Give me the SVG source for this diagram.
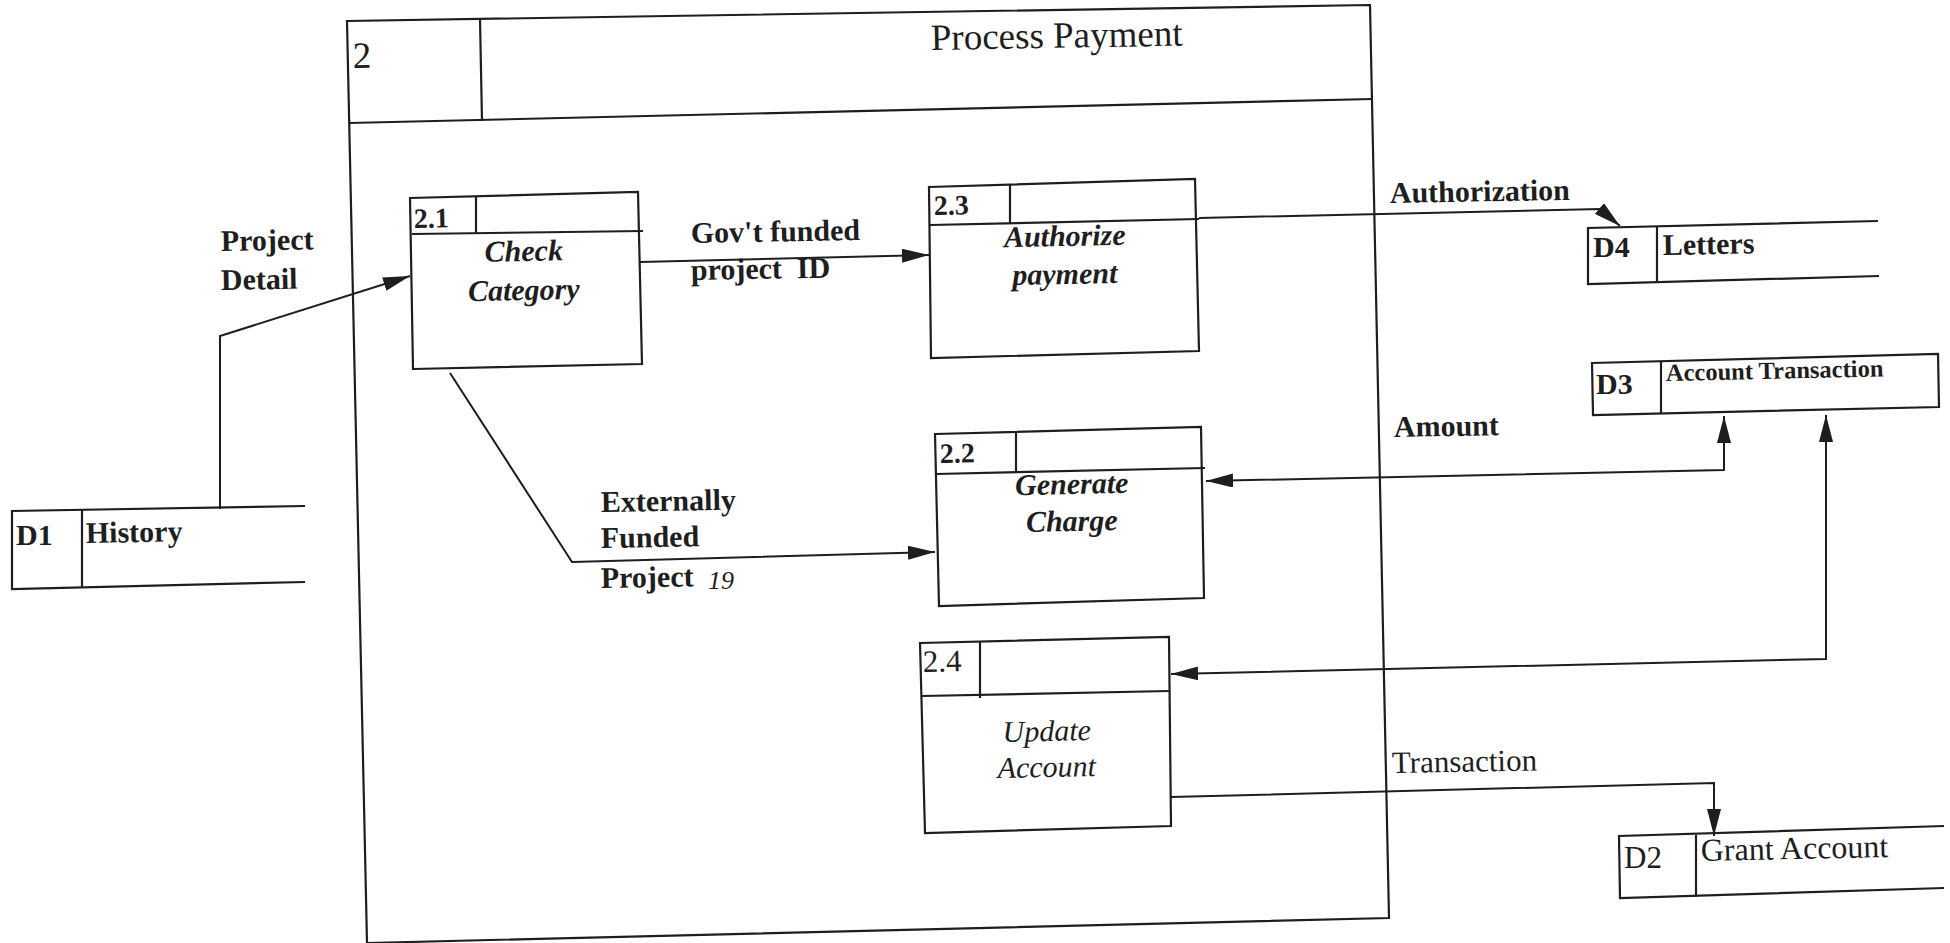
<svg xmlns="http://www.w3.org/2000/svg" width="1950" height="943" viewBox="0 0 1950 943">
<style>
  .ln{fill:none;stroke:#1e1e1e;stroke-width:2.2;stroke-linejoin:miter}
  .box{fill:#ffffff;stroke:#1e1e1e;stroke-width:2.2}
  .cn{fill:none;stroke:#1e1e1e;stroke-width:2}
  .t{font-family:"Liberation Serif","Times New Roman",serif;fill:#1e1e1e}
  .b{font-weight:bold}
  .bi{font-weight:bold;font-style:italic}
  .i{font-style:italic}
  .proc{font-size:30px;text-anchor:middle}
  .lbl{font-size:30px;font-weight:bold}
  .num{font-size:28px;font-weight:bold}
</style>
<defs>
  <marker id="arr" markerUnits="userSpaceOnUse" markerWidth="27" markerHeight="14" viewBox="0 0 27 14" refX="27" refY="7" orient="auto-start-reverse">
    <path d="M0,0 L27,7 L0,14 z" fill="#1e1e1e"/>
  </marker>
</defs>
<rect width="1950" height="943" fill="#ffffff"/>

<g id="process-2">
  <path class="ln" d="M347,21 L1370,5 L1389,918 L367,943 Z"/>
  <path class="ln" d="M349,123 L1373,99"/>
  <path class="ln" d="M480,19 L482,121"/>
  <text class="t" x="353" y="68" font-size="37" transform="rotate(-1.2 353 68)">2</text>
  <text class="t" x="931" y="50" font-size="37" transform="rotate(-1 931 50)">Process Payment</text>
</g>

<g id="connectors">
  <path class="cn" d="M220,509 L220,336 L410,276" marker-end="url(#arr)"/>
  <path class="cn" d="M640,262 L929,255" marker-end="url(#arr)"/>
  <path class="cn" d="M450,373 L572,562 L935,552" marker-end="url(#arr)"/>
  <path class="cn" d="M1199,218 L1600,209 L1620,226" marker-end="url(#arr)"/>
  <path class="cn" d="M1724,416 L1724,470 L1206,481" marker-start="url(#arr)" marker-end="url(#arr)"/>
  <path class="cn" d="M1826,415 L1826,659 L1171,674" marker-start="url(#arr)" marker-end="url(#arr)"/>
  <path class="cn" d="M1171,797 L1714,783 L1714,836" marker-end="url(#arr)"/>
  <text class="t lbl" x="221" y="251" transform="rotate(-1 221 251)">Project</text>
  <text class="t lbl" x="221" y="290" transform="rotate(-1 221 290)">Detail</text>
  <text class="t lbl" x="691" y="243" transform="rotate(-1 691 243)">Gov't funded</text>
  <text class="t lbl" x="691" y="280" transform="rotate(-1 691 280)" xml:space="preserve">project  ID</text>
  <text class="t lbl" x="601" y="512" transform="rotate(-1 601 512)">Externally</text>
  <text class="t lbl" x="601" y="548" transform="rotate(-1 601 548)">Funded</text>
  <text class="t lbl" x="601" y="588" transform="rotate(-1 601 588)">Project</text>
  <text class="t i" x="708" y="589" font-size="26">19</text>
  <text class="t lbl" x="1390" y="203" transform="rotate(-1 1390 203)">Authorization</text>
  <text class="t lbl" x="1394" y="437" transform="rotate(-1 1394 437)">Amount</text>
  <text class="t" x="1392" y="773" font-size="31" transform="rotate(-1 1392 773)">Transaction</text>
</g>

<g id="p2-1">
  <path class="box" d="M410,198 L638,192 L642,364 L413,369 Z"/>
  <path class="ln" d="M412,234 L643,231"/>
  <path class="ln" d="M476,196 L476,233"/>
  <text class="t num" x="414" y="228" transform="rotate(-1.2 414 228)">2.1</text>
  <text class="t bi proc" x="524" y="261" transform="rotate(-1.2 524 261)">Check</text>
  <text class="t bi proc" x="524" y="300" transform="rotate(-1.2 524 300)">Category</text>
</g>

<g id="p2-3">
  <path class="box" d="M929,187 L1195,179 L1199,351 L931,358 Z"/>
  <path class="ln" d="M930,225 L1199,219"/>
  <path class="ln" d="M1010,185 L1010,224"/>
  <text class="t num" x="934" y="215" transform="rotate(-1.2 934 215)">2.3</text>
  <text class="t bi proc" x="1065" y="246" transform="rotate(-1.2 1065 246)">Authorize</text>
  <text class="t bi proc" x="1065" y="284" transform="rotate(-1.2 1065 284)">payment</text>
</g>

<g id="p2-2">
  <path class="box" d="M935,434 L1201,427 L1204,598 L939,606 Z"/>
  <path class="ln" d="M936,474 L1205,468"/>
  <path class="ln" d="M1016,433 L1016,473"/>
  <text class="t num" x="940" y="463" transform="rotate(-1.2 940 463)">2.2</text>
  <text class="t bi proc" x="1072" y="494" transform="rotate(-1.2 1072 494)">Generate</text>
  <text class="t bi proc" x="1072" y="531" transform="rotate(-1.2 1072 531)">Charge</text>
</g>

<g id="p2-4">
  <path class="box" d="M920,643 L1169,637 L1171,826 L925,833 Z"/>
  <path class="ln" d="M922,696 L1170,691"/>
  <path class="ln" d="M980,642 L980,698"/>
  <text class="t" x="923" y="672" font-size="31" transform="rotate(-1.2 923 672)">2.4</text>
  <text class="t i proc" x="1047" y="741" font-size="33" transform="rotate(-1.2 1047 741)">Update</text>
  <text class="t i proc" x="1047" y="777" font-size="33" transform="rotate(-1.2 1047 777)">Account</text>
</g>

<g id="d1-history">
  <path class="ln" d="M305,506 L12,511 L12,589 L305,582"/>
  <path class="ln" d="M82,510 L82,588"/>
  <text class="t lbl" x="16" y="545">D1</text>
  <text class="t lbl" x="86" y="543" transform="rotate(-1 86 543)">History</text>
</g>

<g id="d4-letters">
  <path class="ln" d="M1878,221 L1588,228 L1588,284 L1879,276"/>
  <path class="ln" d="M1657,227 L1657,283"/>
  <text class="t lbl" x="1593" y="257">D4</text>
  <text class="t lbl" x="1663" y="255" transform="rotate(-1 1663 255)">Letters</text>
</g>

<g id="d3-account-transaction">
  <path class="box" d="M1592,363 L1938,354 L1939,407 L1593,415 Z"/>
  <path class="ln" d="M1661,362 L1661,414"/>
  <text class="t lbl" x="1596" y="394">D3</text>
  <text class="t b" x="1666" y="381" font-size="24.5" transform="rotate(-1.2 1666 381)">Account Transaction</text>
</g>

<g id="d2-grant-account">
  <path class="ln" d="M1944,826 L1619,836 L1620,898 L1944,888"/>
  <path class="ln" d="M1696,835 L1696,897"/>
  <text class="t" x="1624" y="868" font-size="31">D2</text>
  <text class="t" x="1701" y="861" font-size="32" transform="rotate(-1.2 1701 861)">Grant Account</text>
</g>
</svg>
